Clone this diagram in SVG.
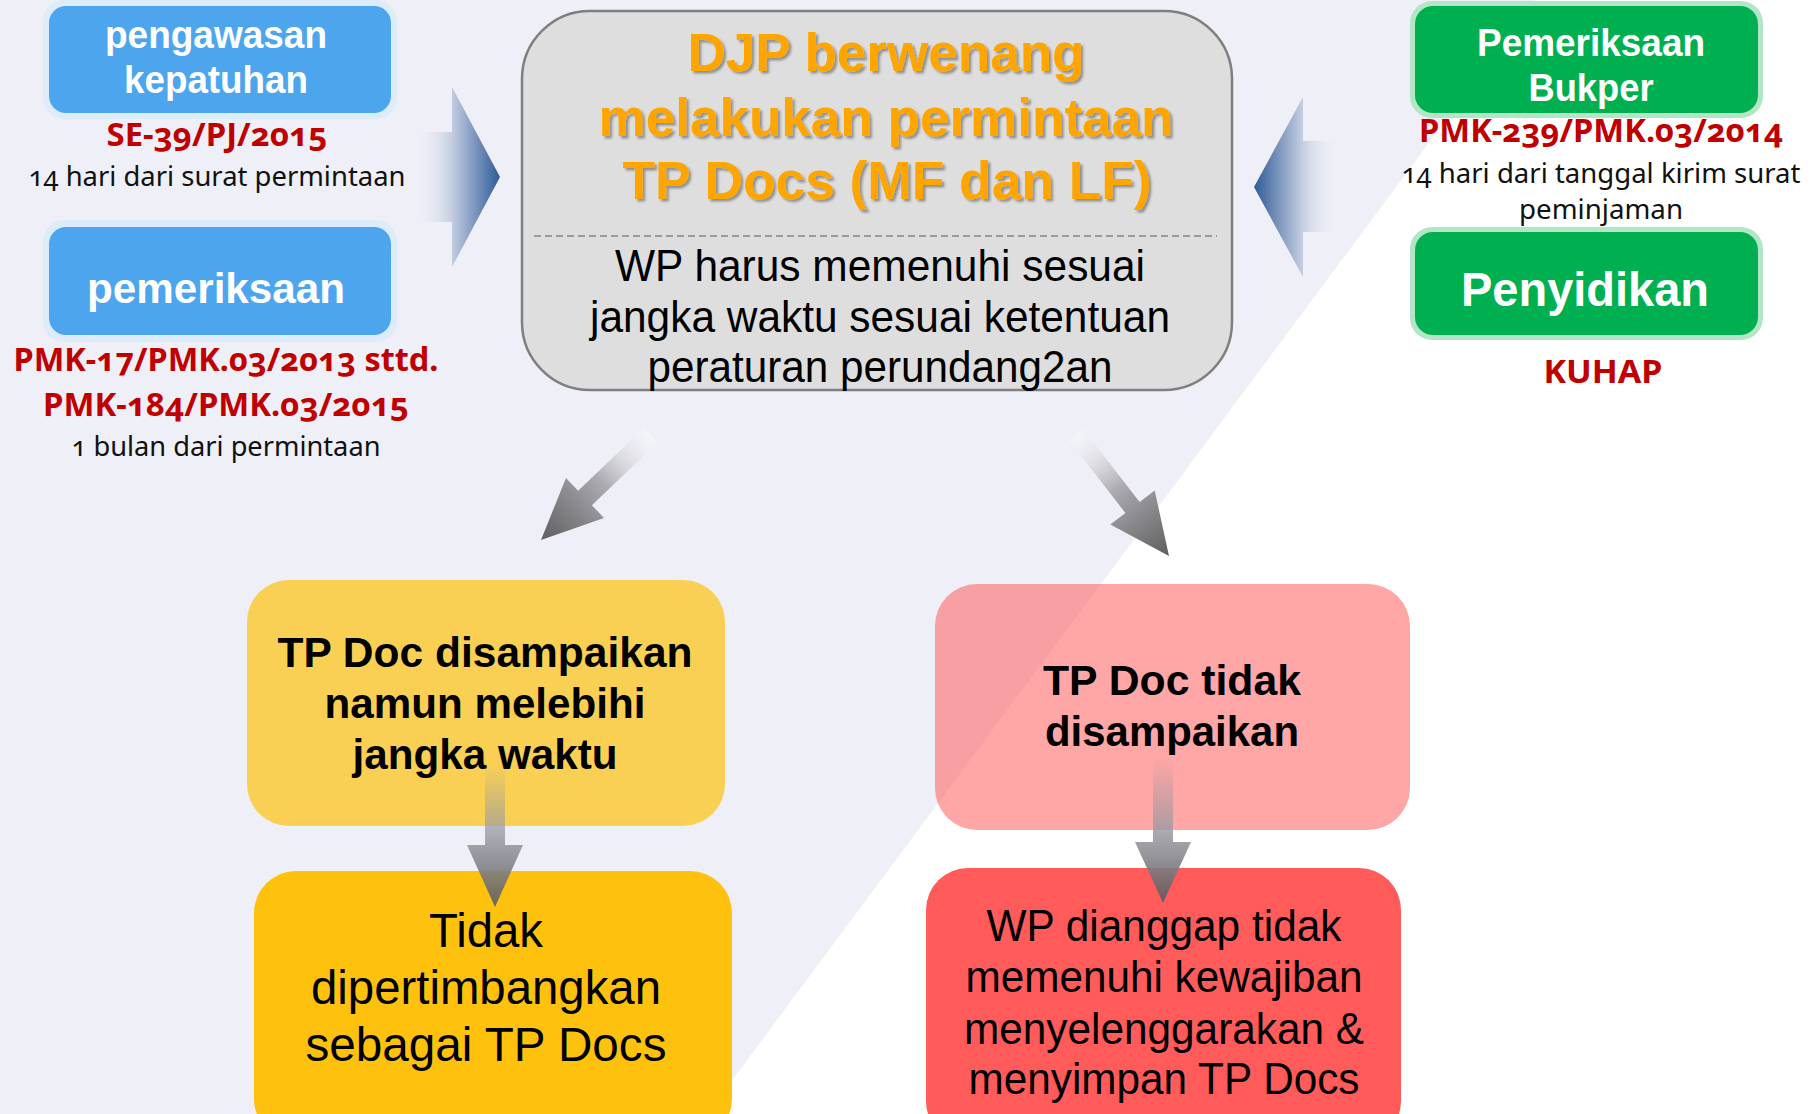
<svg xmlns="http://www.w3.org/2000/svg" width="1816" height="1114" viewBox="0 0 1816 1114">
<defs>
<style>
.ab{font-family:"Liberation Sans",Arial,sans-serif;font-weight:bold;text-anchor:middle}
.ar{font-family:"Liberation Sans",Arial,sans-serif;text-anchor:middle}
.cb{font-family:"Noto Sans","Open Sans",sans-serif;font-weight:bold;text-anchor:middle;fill:#c00000;font-variant-numeric:oldstyle-nums}
.cr{font-family:"Noto Sans","Open Sans",sans-serif;text-anchor:middle;fill:#111;font-variant-numeric:oldstyle-nums}
.w{fill:#fff}
.k{fill:#000}
</style>
<linearGradient id="gBL" gradientUnits="userSpaceOnUse" x1="417" y1="0" x2="500" y2="0">
<stop offset="0" stop-color="#eeeff7" stop-opacity="0"/>
<stop offset="0.42" stop-color="#c3cde0"/>
<stop offset="1" stop-color="#2f5b98"/>
</linearGradient>
<linearGradient id="gBR" gradientUnits="userSpaceOnUse" x1="1337" y1="0" x2="1254" y2="0">
<stop offset="0" stop-color="#eeeff7" stop-opacity="0"/>
<stop offset="0.42" stop-color="#c3cde0"/>
<stop offset="1" stop-color="#2f5b98"/>
</linearGradient>
<linearGradient id="gD1" gradientUnits="userSpaceOnUse" x1="651" y1="435" x2="541" y2="540">
<stop offset="0" stop-color="#ffffff" stop-opacity="0.3"/>
<stop offset="0.45" stop-color="#aaaab0"/>
<stop offset="1" stop-color="#5e5e5e"/>
</linearGradient>
<linearGradient id="gD2" gradientUnits="userSpaceOnUse" x1="1076" y1="434" x2="1169" y2="556">
<stop offset="0" stop-color="#ffffff" stop-opacity="0.3"/>
<stop offset="0.45" stop-color="#aaaab0"/>
<stop offset="1" stop-color="#5e5e5e"/>
</linearGradient>
<linearGradient id="gV1" gradientUnits="userSpaceOnUse" x1="0" y1="765" x2="0" y2="907">
<stop offset="0" stop-color="#9a9aa0" stop-opacity="0"/>
<stop offset="0.55" stop-color="#9a9aa2" stop-opacity="0.9"/>
<stop offset="1" stop-color="#5a5a5a" stop-opacity="0.9"/>
</linearGradient>
<linearGradient id="gV2" gradientUnits="userSpaceOnUse" x1="0" y1="758" x2="0" y2="903">
<stop offset="0" stop-color="#9a9aa0" stop-opacity="0"/>
<stop offset="0.55" stop-color="#9a9aa2" stop-opacity="0.9"/>
<stop offset="1" stop-color="#5a5a5a" stop-opacity="0.9"/>
</linearGradient>
<filter id="sh" x="-5%" y="-10%" width="110%" height="130%">
<feDropShadow dx="2.5" dy="2.5" stdDeviation="0.8" flood-color="#000" flood-opacity="0.35"/>
</filter>
</defs>

<rect x="0" y="0" width="1816" height="1114" fill="#ffffff"/>
<polygon points="0,0 1535,0 707,1114 0,1114" fill="#eeeff7"/>

<g id="node-pengawasan">
<rect x="43" y="0" width="354" height="119" rx="21" fill="#dcecfa"/>
<rect x="49" y="6" width="342" height="107" rx="17" fill="#4da5ee"/>
<text class="ab w" font-size="38" x="216" y="48" textLength="222" lengthAdjust="spacingAndGlyphs">pengawasan</text>
<text class="ab w" font-size="38" x="216" y="93" textLength="184" lengthAdjust="spacingAndGlyphs">kepatuhan</text>
<text class="cb" font-size="33" x="217" y="146" textLength="221" lengthAdjust="spacingAndGlyphs">SE-39/PJ/2015</text>
<text class="cr" font-size="28" x="217" y="186" textLength="377" lengthAdjust="spacingAndGlyphs">14 hari dari surat permintaan</text>
</g>

<g id="node-pemeriksaan">
<rect x="43" y="220" width="354" height="122" rx="21" fill="#dcecfa"/>
<rect x="49" y="227" width="342" height="108" rx="17" fill="#4da5ee"/>
<text class="ab w" font-size="43" x="216" y="303" textLength="258" lengthAdjust="spacingAndGlyphs">pemeriksaan</text>
<text class="cb" font-size="33" x="226" y="371" textLength="425" lengthAdjust="spacingAndGlyphs">PMK-17/PMK.03/2013 sttd.</text>
<text class="cb" font-size="33" x="226" y="416" textLength="366" lengthAdjust="spacingAndGlyphs">PMK-184/PMK.03/2015</text>
<text class="cr" font-size="28" x="226" y="456" textLength="309" lengthAdjust="spacingAndGlyphs">1 bulan dari permintaan</text>
</g>

<g id="node-djp">
<rect x="522" y="11" width="710" height="379" rx="68" fill="#dedede" stroke="#7f7f7f" stroke-width="2.5"/>
<g filter="url(#sh)" fill="#ffa500">
<text class="ab" font-size="54" x="886" y="71" textLength="397" lengthAdjust="spacingAndGlyphs" fill="#ffa500">DJP berwenang</text>
<text class="ab" font-size="54" x="886" y="136" textLength="575" lengthAdjust="spacingAndGlyphs" fill="#ffa500">melakukan permintaan</text>
<text class="ab" font-size="54" x="887" y="199" textLength="529" lengthAdjust="spacingAndGlyphs" fill="#ffa500">TP Docs (MF dan LF)</text>
</g>
<line x1="534" y1="236" x2="1217" y2="236" stroke="#9a9a9a" stroke-width="2" stroke-dasharray="7,4"/>
<text class="ar k" font-size="44" x="880" y="281" textLength="530" lengthAdjust="spacingAndGlyphs">WP harus memenuhi sesuai</text>
<text class="ar k" font-size="44" x="880" y="332" textLength="580" lengthAdjust="spacingAndGlyphs">jangka waktu sesuai ketentuan</text>
<text class="ar k" font-size="44" x="880" y="382" textLength="465" lengthAdjust="spacingAndGlyphs">peraturan perundang2an</text>
</g>

<g id="node-bukper">
<rect x="1410" y="1" width="353" height="117" rx="22" fill="#b3e6c6"/>
<rect x="1415" y="6" width="343" height="107" rx="18" fill="#00b050"/>
<text class="ab w" font-size="38" x="1591" y="56" textLength="228" lengthAdjust="spacingAndGlyphs">Pemeriksaan</text>
<text class="ab w" font-size="38" x="1591" y="101" textLength="125" lengthAdjust="spacingAndGlyphs">Bukper</text>
<text class="cb" font-size="33" x="1601" y="142" textLength="364" lengthAdjust="spacingAndGlyphs">PMK-239/PMK.03/2014</text>
<text class="cr" font-size="28" x="1601" y="183" textLength="399" lengthAdjust="spacingAndGlyphs">14 hari dari tanggal kirim surat</text>
<text class="cr" font-size="28" x="1601" y="219" textLength="164" lengthAdjust="spacingAndGlyphs">peminjaman</text>
</g>

<g id="node-penyidikan">
<rect x="1410" y="227" width="353" height="113" rx="22" fill="#b3e6c6"/>
<rect x="1415" y="232" width="343" height="103" rx="18" fill="#00b050"/>
<text class="ab w" font-size="48" x="1585" y="306" textLength="248" lengthAdjust="spacingAndGlyphs">Penyidikan</text>
<text class="cb" font-size="33" x="1603" y="383" textLength="119" lengthAdjust="spacingAndGlyphs">KUHAP</text>
</g>

<g id="node-terlambat">
<rect x="247" y="580" width="478" height="246" rx="42" fill="#ffc000" fill-opacity="0.66"/>
<text class="ab k" font-size="43" x="485" y="667" textLength="415" lengthAdjust="spacingAndGlyphs">TP Doc disampaikan</text>
<text class="ab k" font-size="43" x="485" y="718" textLength="321" lengthAdjust="spacingAndGlyphs">namun melebihi</text>
<text class="ab k" font-size="43" x="485" y="769" textLength="265" lengthAdjust="spacingAndGlyphs">jangka waktu</text>
</g>

<g id="node-tidak-dipertimbangkan">
<rect x="254" y="871" width="478" height="270" rx="42" fill="#fec20e"/>
<text class="ar k" font-size="48" x="486" y="947" textLength="114" lengthAdjust="spacingAndGlyphs">Tidak</text>
<text class="ar k" font-size="48" x="486" y="1004" textLength="350" lengthAdjust="spacingAndGlyphs">dipertimbangkan</text>
<text class="ar k" font-size="48" x="486" y="1061" textLength="361" lengthAdjust="spacingAndGlyphs">sebagai TP Docs</text>
</g>

<g id="node-tidak-disampaikan">
<rect x="935" y="584" width="475" height="246" rx="42" fill="#ff5a5a" fill-opacity="0.54"/>
<text class="ab k" font-size="43" x="1172" y="695" textLength="258" lengthAdjust="spacingAndGlyphs">TP Doc tidak</text>
<text class="ab k" font-size="43" x="1172" y="746" textLength="254" lengthAdjust="spacingAndGlyphs">disampaikan</text>
</g>

<g id="node-wp-dianggap">
<rect x="926" y="868" width="475" height="275" rx="42" fill="#ff5b5b"/>
<text class="ar k" font-size="44" x="1164" y="941" textLength="355" lengthAdjust="spacingAndGlyphs">WP dianggap tidak</text>
<text class="ar k" font-size="44" x="1164" y="992" textLength="397" lengthAdjust="spacingAndGlyphs">memenuhi kewajiban</text>
<text class="ar k" font-size="44" x="1164" y="1044" textLength="400" lengthAdjust="spacingAndGlyphs">menyelenggarakan &amp;</text>
<text class="ar k" font-size="44" x="1164" y="1094" textLength="391" lengthAdjust="spacingAndGlyphs">menyimpan TP Docs</text>
</g>

<g id="connectors">
<polygon points="417,132 452,132 452,87 500,177 452,267 452,222 417,222" fill="url(#gBL)"/>
<polygon points="1337,141 1303,141 1303,97 1254,187 1303,277 1303,232 1337,232" fill="url(#gBR)"/>
<polygon points="657.9,442.2 591.9,505.2 604,518 541,540 566,478 578.1,490.8 644.1,427.8" fill="url(#gD1)"/>
<polygon points="1083.1,429 1139.6,502 1154.7,490.5 1169,556 1110.3,524.5 1125.4,513 1068.9,440" fill="url(#gD2)"/>
<polygon points="485,765 505,765 505,845 523,845 495,907 467,845 485,845" fill="url(#gV1)"/>
<polygon points="1153,758 1173,758 1173,842 1191,842 1163,903 1135,842 1153,842" fill="url(#gV2)"/>
</g>
</svg>
